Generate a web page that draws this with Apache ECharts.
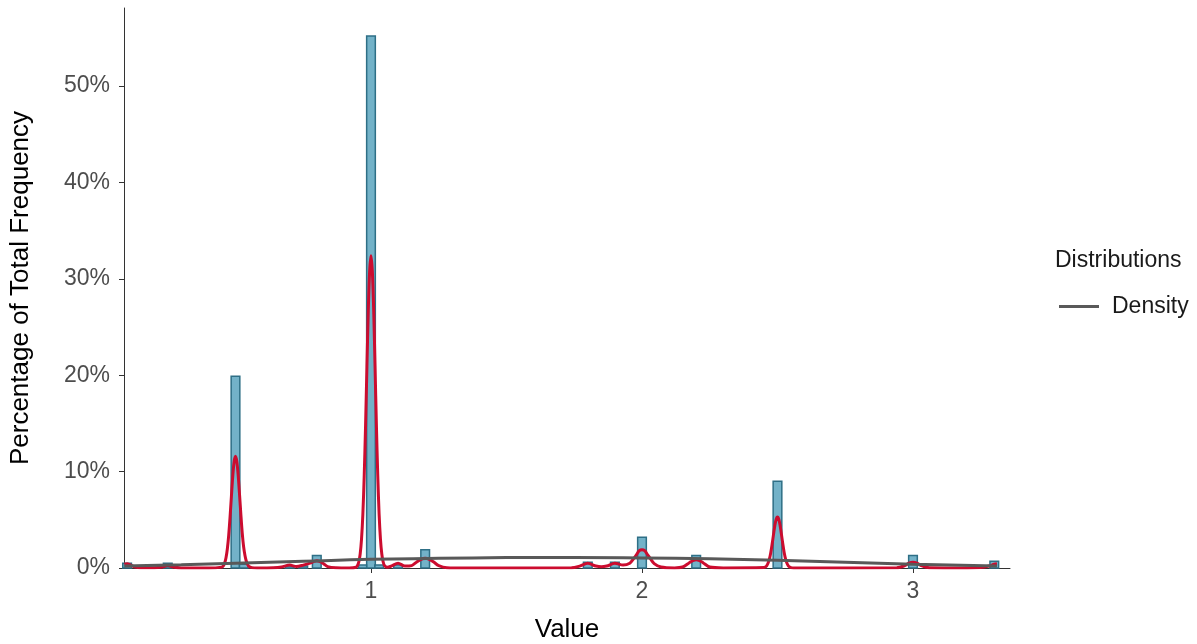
<!DOCTYPE html>
<html>
<head>
<meta charset="utf-8">
<script src="https://cdn.jsdelivr.net/npm/echarts@6/dist/echarts.min.js"></script>
<style>html,body{margin:0;padding:0;background:#fff;}#c{width:1197px;height:644px;}</style>
</head>
<body>
<div id="c"></div>
<script>
// Histogram bins (bin centre, percentage of total frequency)
const binCenters = [0.1, 0.25, 0.5, 0.53, 0.7, 0.75, 0.8, 0.97, 1.0, 1.03, 1.1, 1.2, 1.8, 1.9, 2.0, 2.2, 2.5, 3.0, 3.3];
const binPercent = [0.5, 0.5, 19.9, 0.4, 0.2, 0.2, 1.3, 0.3, 55.2, 0.3, 0.3, 1.9, 0.6, 0.6, 3.2, 1.3, 9.0, 1.3, 0.7];
const binWidth = 0.032;

// Red (narrow) density curve
const redX = [0.09,0.1,0.11,0.13,0.15,0.2,0.23,0.25,0.27,0.3,0.4,
  0.45,0.455,0.46,0.465,0.47,0.475,0.48,0.485,0.49,0.495,0.5,0.505,0.51,0.515,0.52,0.525,0.53,0.535,0.54,0.545,0.55,0.56,0.58,
  0.64,0.67,0.7,0.725,0.75,0.775,0.79,0.8,0.81,0.825,0.84,0.87,0.92,
  0.945,0.95,0.955,0.96,0.965,0.97,0.975,0.98,0.985,0.99,0.995,1.0,1.005,1.01,1.015,1.02,1.025,1.03,1.035,1.04,1.045,1.05,1.06,
  1.075,1.1,1.125,1.15,1.17,1.185,1.2,1.215,1.23,1.25,1.28,1.35,
  1.74,1.77,1.8,1.83,1.85,1.87,1.9,1.93,1.955,1.97,1.98,1.99,2.0,2.01,2.02,2.03,2.045,2.07,2.12,
  2.15,2.175,2.19,2.2,2.21,2.225,2.25,2.3,
  2.45,2.455,2.46,2.465,2.47,2.475,2.48,2.485,2.49,2.495,2.5,2.505,2.51,2.515,2.52,2.525,2.53,2.535,2.54,2.545,2.55,2.56,2.6,
  2.94,2.97,2.985,3.0,3.015,3.03,3.06,3.2,3.25,3.28,3.3,3.31];
const redY = [0.4,0.45,0.35,0.1,0.02,0.02,0.1,0.25,0.1,0.01,0.0,
  0.09,0.22,0.51,1.07,2.0,3.42,5.31,7.47,9.55,11.04,11.6,11.04,9.6,7.6,5.5,3.6,2.2,1.3,0.7,0.35,0.15,0.04,0.0,
  0.02,0.1,0.3,0.15,0.3,0.5,0.68,0.75,0.68,0.45,0.15,0.02,0.0,
  0.08,0.25,0.62,1.43,2.98,5.57,9.56,14.8,20.9,26.7,30.8,32.4,30.8,26.7,20.9,14.8,9.56,5.57,2.98,1.43,0.62,0.25,0.08,
  0.2,0.5,0.2,0.25,0.65,0.9,1.0,0.9,0.65,0.25,0.03,0.0,
  0.02,0.2,0.5,0.2,0.12,0.2,0.5,0.3,0.5,1.0,1.4,1.8,1.9,1.8,1.4,1.0,0.45,0.1,0.01,
  0.1,0.55,0.8,0.85,0.8,0.55,0.1,0.01,
  0.04,0.1,0.23,0.49,0.91,1.56,2.43,3.41,4.36,5.05,5.3,5.05,4.36,3.41,2.43,1.56,0.91,0.49,0.23,0.1,0.04,0.01,0.0,
  0.02,0.25,0.5,0.6,0.5,0.25,0.02,0.0,0.05,0.2,0.4,0.45];

// Grey (broad) density curve
const greyX = [0.09, 0.3, 0.5, 0.75, 1.0, 1.25, 1.5, 1.75, 2.0, 2.25, 2.5, 2.75, 3.0, 3.31];
const greyY = [0.2, 0.35, 0.5, 0.7, 0.9, 1.0, 1.08, 1.1, 1.05, 0.95, 0.8, 0.6, 0.4, 0.2];

// Tick labels
const xTicks = [1, 2, 3];
const yTicks = [0, 10, 20, 30, 40, 50];

const FONT = 'Liberation Sans, Arial, sans-serif';
const chart = echarts.init(document.getElementById('c'), null, {renderer: 'canvas'});

const barData = binCenters.map((c, i) => [c, binPercent[i]]);
const redData = redX.map((x, i) => [x, redY[i]]);
const greyData = greyX.map((x, i) => [x, greyY[i]]);

chart.setOption({
  animation: false,
  backgroundColor: '#fff',
  title: {
    text: 'Distributions',
    left: 1050, top: 244,
    textStyle: {fontFamily: FONT, fontSize: 23, fontWeight: 'normal', color: '#1a1a1a'}
  },
  legend: {
    data: [{name: 'Density', icon: 'rect'}],
    left: 1054, top: 290,
    itemWidth: 40, itemHeight: 3, itemGap: 10,
    textStyle: {fontFamily: FONT, fontSize: 23, color: '#1a1a1a', padding: [0,0,0,8]}
  },
  grid: {left: 124, right: 187, top: 8, bottom: 76, containLabel: false, outerBoundsMode: 'none'},
  xAxis: {
    type: 'value', min: 0.0886, max: 3.358,
    name: 'Value', nameLocation: 'middle', nameGap: 49,
    nameTextStyle: {fontFamily: FONT, fontSize: 26, color: '#000'},
    splitLine: {show: false},
    axisLine: {show: true, lineStyle: {color: '#333', width: 1}},
    axisTick: {show: true, length: 5, customValues: xTicks, lineStyle: {color: '#333'}},
    axisLabel: {customValues: xTicks, margin: 12, fontFamily: FONT, fontSize: 23, color: '#4d4d4d'}
  },
  yAxis: {
    type: 'value', min: 0, max: 58.1,
    name: 'Percentage of Total Frequency', nameLocation: 'middle', nameGap: 90,
    nameTextStyle: {fontFamily: FONT, fontSize: 26, color: '#000'},
    splitLine: {show: false},
    axisLine: {show: true, lineStyle: {color: '#333', width: 1}},
    axisTick: {show: true, length: 5, customValues: yTicks, lineStyle: {color: '#333'}},
    axisLabel: {customValues: yTicks, margin: 14, formatter: '{value}%', fontFamily: FONT, fontSize: 23, color: '#4d4d4d'}
  },
  series: [
    {
      type: 'custom', name: 'Histogram',
      data: barData,
      renderItem: function (params, api) {
        const x = api.value(0), y = api.value(1);
        const p0 = api.coord([x - binWidth / 2, 0]);
        const p1 = api.coord([x + binWidth / 2, y]);
        return {
          type: 'rect',
          shape: {x: p0[0], y: p1[1], width: p1[0] - p0[0], height: p0[1] - p1[1]},
          style: {fill: 'rgba(90,165,190,0.85)', stroke: '#2e6f86', lineWidth: 1.5}
        };
      },
      z: 1
    },
    {
      type: 'line', name: 'Narrow', data: redData,
      smooth: 0.3, symbol: 'none',
      lineStyle: {color: '#cc0c2f', width: 3}, z: 2
    },
    {
      type: 'line', name: 'Density', data: greyData,
      smooth: true, symbol: 'none',
      lineStyle: {color: '#595959', width: 3}, itemStyle: {color: '#595959'}, z: 3
    }
  ]
});
</script>
</body>
</html>
